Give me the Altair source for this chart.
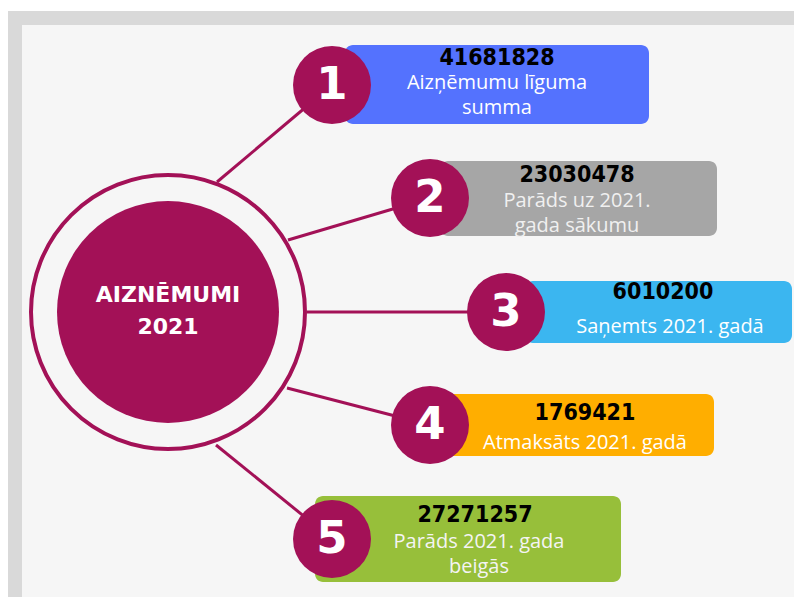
import altair as alt
import pandas as pd

# ---------------- data ----------------
ranks = [1, 2, 3, 4, 5]
values = [41681828, 23030478, 6010200, 1769421, 27271257]
labels = [
    "Aizņēmumu līguma\nsumma",
    "Parāds uz 2021.\ngada sākumu",
    "Saņemts 2021. gadā",
    "Atmaksāts 2021. gadā",
    "Parāds 2021. gada\nbeigās",
]
center_title = ["AIZNĒMUMI", "2021"]

# ---------------- styles ----------------
accent = "#A31157"
box_colors = ["#5472FE", "#A6A6A6", "#3BB6F0", "#FFAE00", "#97BF3A"]
label_colors = ["#FFFFFF", "#F0F0F0", "#FFFFFF", "#FFFFFF", "#F4F4F4"]
frame_color = "#D9D9D9"
panel_color = "#F6F6F6"

# ---------------- layout (page pixel coordinates) ----------------
W, H = 786, 589
X0, Y0 = 8, 8
circ_x = [332, 430, 506, 430, 332]
circ_y = [85, 198, 312, 425, 539]
box_x1 = [345, 440, 525, 440, 315]
box_x2 = [649, 717, 792, 714, 621]
box_y1 = [45, 161, 281, 394, 496]
box_y2 = [124, 236, 343, 456, 582]
num_x = [497, 577, 663, 585, 475]
num_y = [58, 175, 292, 413, 515]
lab_x = [497, 577, 670, 585, 479]
lab_y = [83, 201, 327, 443, 542]
lab_step = 25
line_x0 = [217, 288, 307, 287, 216]
line_y0 = [182, 240, 312, 388, 445]
hub_x, hub_y = 168, 312
hub_r, ring_r = 111, 137
node_r = 39
title_y = [295, 327]

xs = alt.Scale(domain=[X0, X0 + W], nice=False, zero=False)
ys = alt.Scale(domain=[Y0, Y0 + H], nice=False, zero=False, reverse=True)


def X(f="x"):
    return alt.X(f"{f}:Q", scale=xs, axis=None)


def Y(f="y"):
    return alt.Y(f"{f}:Q", scale=ys, axis=None)


def disc(r):
    # Vega symbol size = area of the bounding square
    return (2 * r) ** 2


# frame
frame_df = pd.DataFrame({
    "x": [8, 22], "x2": [802, 797], "y": [11, 25], "y2": [605, 598],
    "c": [frame_color, panel_color],
})
frame = alt.Chart(frame_df).mark_rect().encode(
    x=X(), x2="x2:Q", y=Y(), y2="y2:Q", color=alt.Color("c:N", scale=None)
)

items = pd.DataFrame({
    "rank": ranks, "value": values, "label": labels,
    "cx": circ_x, "cy": circ_y, "bx1": box_x1, "bx2": box_x2,
    "by1": box_y1, "by2": box_y2, "nx": num_x, "ny": num_y,
    "lx0": line_x0, "ly0": line_y0, "bc": box_colors,
})
items["rank_s"] = items["rank"].astype(str)
items["value_s"] = items["value"].astype(str)

links = alt.Chart(items).mark_rule(color=accent, strokeWidth=3).encode(
    x=X("lx0"), y=Y("ly0"), x2="cx:Q", y2="cy:Q"
)

boxes = alt.Chart(items).mark_rect(cornerRadius=8).encode(
    x=X("bx1"), x2="bx2:Q", y=Y("by1"), y2="by2:Q",
    color=alt.Color("bc:N", scale=None),
)

hub_df = pd.DataFrame({"x": [hub_x], "y": [hub_y]})
ring = alt.Chart(hub_df).mark_point(
    shape="circle", filled=False, size=disc(ring_r),
    strokeWidth=4, color=accent, opacity=1,
).encode(x=X(), y=Y())
hub = alt.Chart(hub_df).mark_point(
    shape="circle", filled=True, size=disc(hub_r),
    color=accent, opacity=1, strokeWidth=0,
).encode(x=X(), y=Y())

nodes = alt.Chart(items).mark_point(
    shape="circle", filled=True, size=disc(node_r),
    color=accent, opacity=1, strokeWidth=0,
).encode(x=X("cx"), y=Y("cy"))

node_text = alt.Chart(items).mark_text(
    font="DejaVu Sans", fontWeight="bold", fontSize=45, color="white",
    align="center", baseline="middle",
).encode(x=X("cx"), y=Y("cy"), text="rank_s:N")

num_text = alt.Chart(items).mark_text(
    font="DejaVu Sans Condensed, DejaVu Sans", fontWeight="bold", fontSize=23,
    color="black", align="center", baseline="middle",
).encode(x=X("nx"), y=Y("ny"), text="value_s:N")

rows = []
for i, lab in enumerate(labels):
    for j, line in enumerate(lab.split("\n")):
        rows.append({"x": lab_x[i], "y": lab_y[i] + j * lab_step,
                     "t": line, "c": label_colors[i]})
lab_df = pd.DataFrame(rows)
lab_text = alt.Chart(lab_df).mark_text(
    font="Open Sans", fontSize=20, align="center", baseline="middle",
).encode(x=X(), y=Y(), text="t:N", color=alt.Color("c:N", scale=None))

title_df = pd.DataFrame({"x": [hub_x, hub_x], "y": title_y, "t": center_title})
title_text = alt.Chart(title_df).mark_text(
    font="DejaVu Sans", fontWeight="bold", fontSize=22, color="white",
    align="center", baseline="middle",
).encode(x=X(), y=Y(), text="t:N")

chart = alt.layer(
    frame, links, ring, hub, boxes, nodes, node_text, num_text, lab_text, title_text
).properties(
    width=W, height=H, padding=0, autosize=alt.AutoSizeParams(type="none"),
    background="white",
).configure_view(stroke=None)

chart.save("out.html", embed_options={"renderer": "svg", "actions": False})
